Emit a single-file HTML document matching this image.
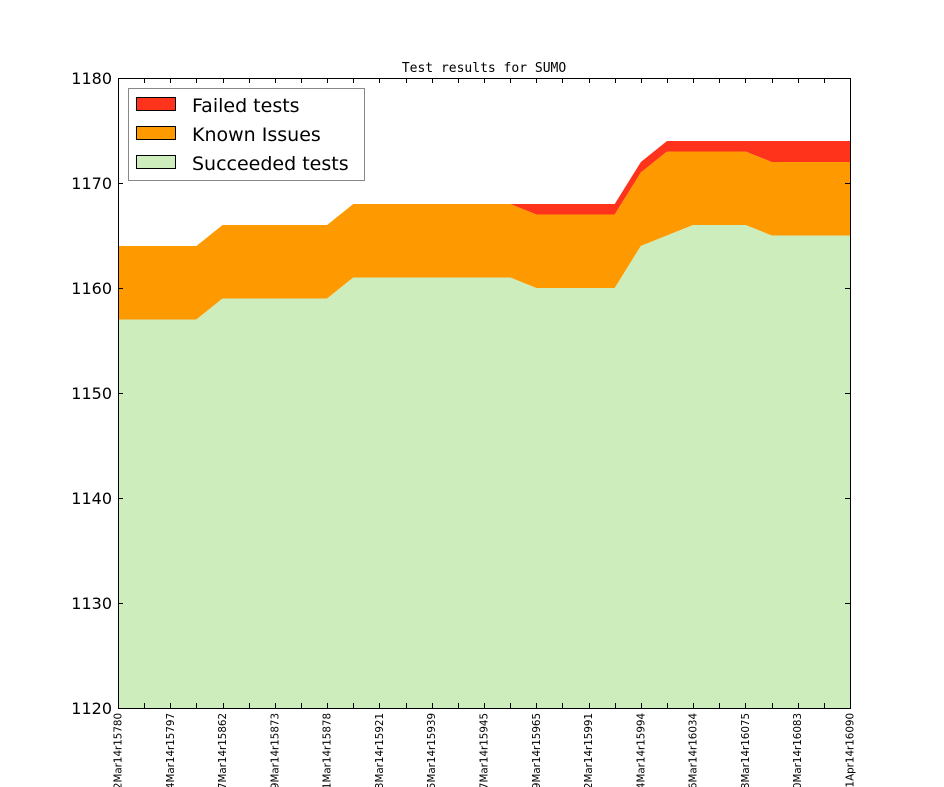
<!DOCTYPE html>
<html><head><meta charset="utf-8"><style>html,body{margin:0;padding:0;background:#fff}svg{display:block}</style></head>
<body>
<svg id="s" width="944" height="787" xmlns="http://www.w3.org/2000/svg" font-family="DejaVu Sans, Liberation Sans, sans-serif">
<rect width="944" height="787" fill="#fff"/>
<g id="areas"></g>
<rect x="118.5" y="78.5" width="732" height="630" fill="none" stroke="#000" stroke-width="1"/>
<g id="ticks" stroke="#000" stroke-width="1"></g>
<g id="labels"></g>
<text x="484" y="72" font-family="DejaVu Sans Mono, Liberation Mono, monospace" font-size="13" text-anchor="middle">Test results for SUMO</text>
<rect x="128.5" y="88.5" width="236" height="92" fill="#fff" stroke="#888"/>
<rect x="136.5" y="97.5" width="39" height="13" fill="#ff331c" stroke="#000"/>
<rect x="136.5" y="126.5" width="39" height="13" fill="#ff9900" stroke="#000"/>
<rect x="136.5" y="155.5" width="39" height="13" fill="#ceedbd" stroke="#000"/>
<text x="192" y="112" font-size="19">Failed tests</text>
<text x="192" y="141" font-size="19">Known Issues</text>
<text x="192" y="170" font-size="19">Succeeded tests</text>
</svg>
<script>
var S=[1157,1157,1157,1157,1159,1159,1159,1159,1159,1161,1161,1161,1161,1161,1161,1161,1160,1160,1160,1160,1164,1165,1166,1166,1166,1165,1165,1165,1165];
var K=[1164,1164,1164,1164,1166,1166,1166,1166,1166,1168,1168,1168,1168,1168,1168,1168,1167,1167,1167,1167,1171,1173,1173,1173,1173,1172,1172,1172,1172];
var F=[1164,1164,1164,1164,1166,1166,1166,1166,1166,1168,1168,1168,1168,1168,1168,1168,1168,1168,1168,1168,1172,1174,1174,1174,1174,1174,1174,1174,1174];
function X(i){return 118+732*i/28}
function Y(v){return 708-(v-1120)*10.5}
function poly(top,bot,c){var p=[];for(var i=0;i<29;i++)p.push(X(i)+','+Y(top[i]));for(var i=28;i>=0;i--)p.push(X(i)+','+(bot?Y(bot[i]):708));return '<polygon points="'+p.join(' ')+'" fill="'+c+'"/>'}
document.getElementById('areas').innerHTML=poly(F,K,'#ff331c')+poly(K,S,'#ff9900')+poly(S,null,'#ceedbd');
var t='';for(var i=0;i<29;i++){var x=Math.round(X(i))+0.5;t+='<line x1="'+x+'" y1="708" x2="'+x+'" y2="703"/><line x1="'+x+'" y1="78" x2="'+x+'" y2="83"/>';}
for(var v=1120;v<=1180;v+=10){var y=Y(v)+0.5;t+='<line x1="118" y1="'+y+'" x2="123" y2="'+y+'"/><line x1="850" y1="'+y+'" x2="845" y2="'+y+'"/>';}
document.getElementById('ticks').innerHTML=t;
var L=['12Mar14r15780','14Mar14r15797','17Mar14r15862','19Mar14r15873','21Mar14r15878','23Mar14r15921','25Mar14r15939','27Mar14r15945','29Mar14r15965','02Mar14r15991','24Mar14r15994','26Mar14r16034','28Mar14r16075','30Mar14r16083','01Apr14r16090'];
var l='';for(var j=0;j<15;j++){var x=X(2*j)+3.5;l+='<text font-size="10.3" text-anchor="end" transform="translate('+x+',713) rotate(-90)">'+L[j]+'</text>';}
for(var v=1120;v<=1180;v+=10){l+='<text x="112" y="'+(Y(v)+6)+'" font-size="16" text-anchor="end">'+v+'</text>';}
document.getElementById('labels').innerHTML=l;
</script>
</body></html>
